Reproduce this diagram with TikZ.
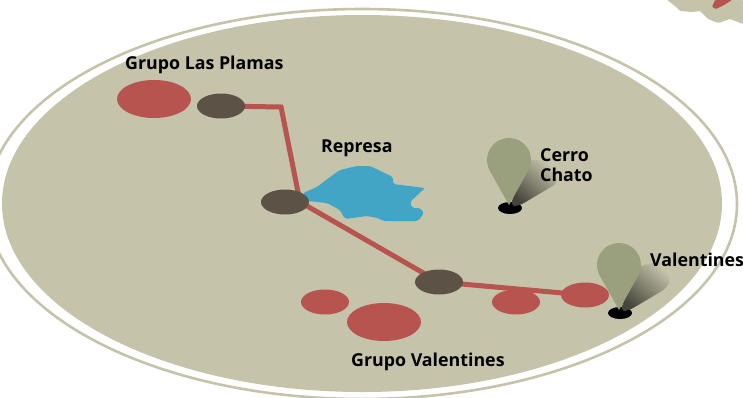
\documentclass[tikz,border=0pt]{standalone}
\usepackage{fontspec}
\setmainfont{Open Sans}
\usetikzlibrary{shapes.geometric}
\pgfdeclarelayer{base}
\pgfdeclarelayer{roads}
\pgfsetlayers{base,roads,main}
\definecolor{beige}{HTML}{C5C3A9}
\definecolor{redsite}{HTML}{B85450}
\definecolor{darknode}{HTML}{5C5346}
\definecolor{lake}{HTML}{43A5C5}
\definecolor{pin}{HTML}{9A9F7E}
\tikzset{
  bigsite/.style={ellipse,fill=redsite,minimum width=74pt,minimum height=38pt,inner sep=0pt},
  smallsite/.style={ellipse,fill=redsite,minimum width=48pt,minimum height=25pt,inner sep=0pt},
  hub/.style={ellipse,fill=darknode,minimum width=48pt,minimum height=25pt,inner sep=0pt},
  hole/.style={ellipse,fill=black,minimum width=24pt,minimum height=12pt,inner sep=0pt},
  road/.style={draw=redsite,line width=5pt,line join=miter},
  lab/.style={font=\bfseries\fontsize{17.8}{20}\selectfont,text=black,inner sep=0pt,align=left},
  castshadow/.style={top color=beige,bottom color=black!65!beige,shading angle=-40},
  pinbody/.style={fill=pin}
}
\begin{document}
\begin{tikzpicture}[x=1pt,y=-1pt]
\useasboundingbox (0,0) rectangle (743,397);
\begin{pgfonlayer}{base}
% map fragment, top right
\fill[beige,rounded corners=1pt] (667,0) -- (675,6) -- (680,11) -- (692,12) -- (700,11) -- (708,19) -- (718,23) -- (730,19) -- (743,24) -- (743,0) -- cycle;
\fill[redsite,rounded corners=1pt] (715,0) -- (712,7) -- (716,9) -- (724,5) -- (732,0) -- cycle;
% island
\draw[beige,line width=2.6pt] (362,204) ellipse [x radius=375,y radius=195];
\fill[beige] (362,203.5) ellipse [x radius=360,y radius=188.5];
\end{pgfonlayer}
% nodes
\node[bigsite] (lasplamas) at (154,99) {};
\node[hub] (hubA) at (221,106) {};
\node[hub] (hubB) at (285,202) {};
\node[hub] (hubC) at (439,282) {};
\node[smallsite] (siteA) at (325,302) {};
\node[bigsite] (siteB) at (384,322) {};
\node[smallsite] (siteC) at (516,302) {};
\node[smallsite] (siteD) at (585,295) {};
\coordinate (bend) at (281,107);
\coordinate (joint) at (300,202);
\begin{pgfonlayer}{roads}
\draw[road] (hubA.center) -- (bend) -- (joint) -- (hubC.center) -- (siteD.center);
% lake
\fill[lake,rounded corners=2pt] (303,193) -- (317,187) -- (330,177) -- (340,170) -- (357,166) -- (370,166) -- (393,177) -- (393,184) -- (425,188) -- (410,202) -- (412,208) -- (420,208) -- (424,213) -- (418,221) -- (383,221) -- (378,218) -- (367,216) -- (345,219) -- (340,210) -- (327,203) -- (308,201) -- cycle;
\end{pgfonlayer}
% pins
\node[hole] (holeA) at (510,208) {};
\node[hole] (holeB) at (620,313) {};
\shade[castshadow,rounded corners=6pt] (510,206) -- (528,160) -- (545,160) -- (559,182) -- (519,206) -- cycle;
\shade[castshadow,rounded corners=6pt] (620,311) -- (638,267) -- (655,262) -- (671,277) -- (667,288) -- (628,311) -- cycle;
\fill[pinbody] (509,205) -- (489.8,170.75) arc[start angle=150.7,end angle=389.3,radius=22] -- cycle;
\fill[pinbody] (619,310) -- (599.8,275.75) arc[start angle=150.7,end angle=389.3,radius=22] -- cycle;
% labels
\node[lab,anchor=west] (l1) at (125,65) {Grupo Las Plamas};
\node[lab,anchor=west] (l2) at (321,148) {Represa};
\node[lab,anchor=north west] (l3) at (540,148) {Cerro\\Chato};
\node[lab,anchor=west] (l4) at (650,260) {Valentines};
\node[lab,anchor=west] (l5) at (351,362) {Grupo Valentines};
\end{tikzpicture}
\end{document}
